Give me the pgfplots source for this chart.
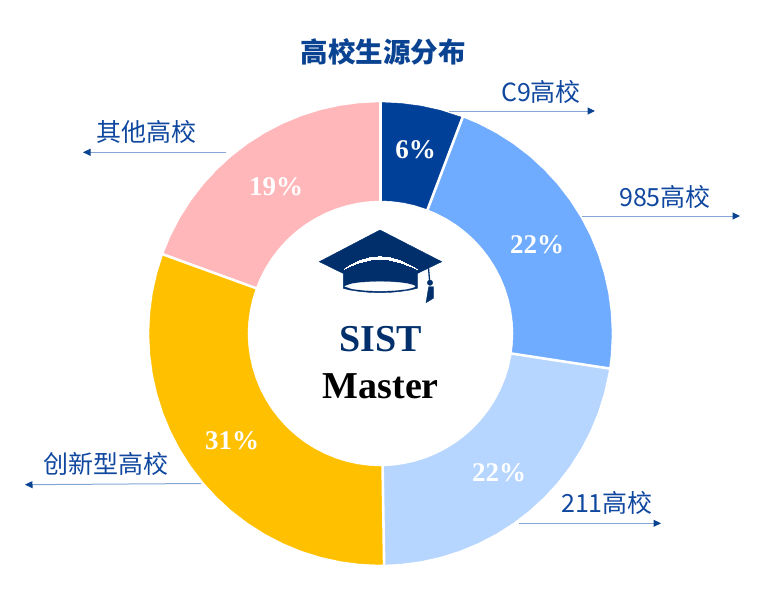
\documentclass[border=0pt]{standalone}
\usepackage{fontspec}
\setmainfont{Liberation Serif}
\newfontfamily\cjk{Noto Sans CJK SC}
\usepackage{pgfplots}
\pgfplotsset{compat=1.18}
\usetikzlibrary{arrows.meta}

\definecolor{cnine}{HTML}{004098}
\definecolor{c985}{HTML}{6FACFF}
\definecolor{c211}{HTML}{B6D5FF}
\definecolor{cnew}{HTML}{FFC000}
\definecolor{cother}{HTML}{FFB7BA}
\definecolor{navy}{HTML}{002F6C}
\definecolor{labelblue}{HTML}{1048A0}
\definecolor{titleblue}{HTML}{0B4393}
\definecolor{leader}{HTML}{85A5D5}
\definecolor{head}{HTML}{0B4393}

\pgfplotsset{
    page/.style={
        at={(0,0)}, anchor=south west,
        scale only axis, width=758pt, height=603pt,
        axis lines=none, clip=false,
    },
    gap/.style={white, line width=2.6pt, data cs=polar},
    arrowline/.style={leader, line width=1pt, -{Triangle[length=7.5pt,width=7pt,color=head]}},
}
\newcommand{\pct}[3]{\node[anchor=base, inner sep=0pt, text=white, font=\fontsize{27}{29}\selectfont\bfseries] at (axis cs:#1,#2) {#3};}
\newcommand{\lab}[3]{\node[anchor=center, inner sep=0pt, text=labelblue, font=\cjk\fontsize{25}{28}\selectfont] at (axis cs:#1,#2) {#3};}

\begin{document}
\begin{tikzpicture}
\path[use as bounding box] (0,0) rectangle (758pt,603pt);

% donut, origin on the centre, points are (angle, radius)
\begin{axis}[page, xmin=-380.5, xmax=377.5, ymin=-269.5, ymax=333.5]
    % C9 5.8%
    \addplot[cnine, fill=cnine, data cs=polar] coordinates {
        (90,231) (85,231) (80,231) (75,231) (69.2,231)
        (69.2,133) (75,133) (80,133) (85,133) (90,133)
    } -- cycle;
    % 985 21.6%
    \addplot[c985, fill=c985, data cs=polar] coordinates {
        (69.2,231) (65,231) (60,231) (55,231) (50,231) (45,231) (40,231) (35,231) (30,231)
        (25,231) (20,231) (15,231) (10,231) (5,231) (0,231) (-5,231) (-8.7,231)
        (-8.7,133) (-5,133) (0,133) (5,133) (10,133) (15,133) (20,133) (25,133)
        (30,133) (35,133) (40,133) (45,133) (50,133) (55,133) (60,133) (65,133) (69.2,133)
    } -- cycle;
    % 211 22.3%
    \addplot[c211, fill=c211, data cs=polar] coordinates {
        (-8.7,231) (-10,231) (-15,231) (-20,231) (-25,231) (-30,231) (-35,231) (-40,231) (-45,231)
        (-50,231) (-55,231) (-60,231) (-65,231) (-70,231) (-75,231) (-80,231) (-85,231) (-89.1,231)
        (-89.1,133) (-85,133) (-80,133) (-75,133) (-70,133) (-65,133) (-60,133) (-55,133) (-50,133)
        (-45,133) (-40,133) (-35,133) (-30,133) (-25,133) (-20,133) (-15,133) (-10,133) (-8.7,133)
    } -- cycle;
    % new-type 30.8%
    \addplot[cnew, fill=cnew, data cs=polar] coordinates {
        (-89.1,231) (-90,231) (-95,231) (-100,231) (-105,231) (-110,231) (-115,231) (-120,231)
        (-125,231) (-130,231) (-135,231) (-140,231) (-145,231) (-150,231) (-155,231) (-160,231)
        (-165,231) (-170,231) (-175,231) (-180,231) (-185,231) (-190,231) (-195,231) (-200,231)
        (-200,133) (-195,133) (-190,133) (-185,133) (-180,133) (-175,133) (-170,133) (-165,133)
        (-160,133) (-155,133) (-150,133) (-145,133) (-140,133) (-135,133) (-130,133) (-125,133)
        (-120,133) (-115,133) (-110,133) (-105,133) (-100,133) (-95,133) (-90,133) (-89.1,133)
    } -- cycle;
    % other 19.4%
    \addplot[cother, fill=cother, data cs=polar] coordinates {
        (-200,231) (-205,231) (-210,231) (-215,231) (-220,231) (-225,231) (-230,231) (-235,231)
        (-240,231) (-245,231) (-250,231) (-255,231) (-260,231) (-265,231) (-270,231)
        (-270,133) (-265,133) (-260,133) (-255,133) (-250,133) (-245,133) (-240,133) (-235,133)
        (-230,133) (-225,133) (-220,133) (-215,133) (-210,133) (-205,133) (-200,133)
    } -- cycle;
    % white gaps
    \addplot[gap] coordinates {(90,128) (90,236)};
    \addplot[gap] coordinates {(69.2,128) (69.2,236)};
    \addplot[gap] coordinates {(-8.7,128) (-8.7,236)};
    \addplot[gap] coordinates {(-89.1,128) (-89.1,236)};
    \addplot[gap] coordinates {(-200,128) (-200,236)};
\end{axis}

% everything else in picture pixels
\begin{axis}[page, xmin=0, xmax=758, ymin=0, ymax=603, y dir=reverse]
    % leader arrows
    \addplot[arrowline] coordinates {(449,111) (595,111)};
    \addplot[arrowline] coordinates {(582,216) (740,216)};
    \addplot[arrowline] coordinates {(519,523.3) (661,523.3)};
    \addplot[arrowline] coordinates {(226,152.3) (83,152.3)};
    \addplot[arrowline] coordinates {(201,483.5) (25,484.7)};

    % cap
    \addplot[navy, fill=navy] coordinates {
        (380,230) (441.7,261.7) (417.3,273.5) (417.3,288.3) (410,290) (400,291.5) (390,292.4) (380,292.7)
        (370,292.4) (360,291.5) (350,290) (343.3,288.3) (343.3,273.5) (319.3,261.7)
    } -- cycle;
    \addplot[white, fill=white, line width=0pt] coordinates {
        (344,269) (350,265.3) (360,260.5) (370,257.7) (380,256.7) (390,257.7) (400,260.5) (410,265.3) (417,269)
        (410,266.1) (400,262.5) (390,260) (380,259.5) (370,260) (360,262.5) (350,266.1)
    } -- cycle;
    \addplot[white, fill=white, smooth] coordinates {
        (345,286.3) (352,283.8) (365,282.2) (380,281.7) (395,282.2) (408,283.8) (415,286.3)
        (408,288.8) (395,290.3) (380,291) (365,290.3) (352,288.8)
    } -- cycle;
    \addplot[navy, line width=1.3pt] coordinates {(428.5,268) (429.6,281)};
    \addplot[navy, only marks, mark=*, mark size=2.7pt, mark options={fill=navy}] coordinates {(430,282.7)};
    \addplot[navy, fill=navy] coordinates {(428.7,286.7) (433.3,286.7) (433.3,298.3) (426,302.7)} -- cycle;

    % texts
    \node[anchor=center, inner sep=0pt, text=titleblue, font=\cjk\fontsize{27.5}{30}\selectfont\bfseries] at (axis cs:383,52) {高校生源分布};
    \lab{541}{91.7}{C9高校}
    \lab{665}{196.7}{985高校}
    \lab{146.5}{132}{其他高校}
    \lab{106}{464}{创新型高校}
    \lab{607}{503}{211高校}

    \pct{415.5}{158}{6\%}
    \pct{537}{253}{22\%}
    \pct{499}{481}{22\%}
    \pct{232}{449}{31\%}
    \pct{276}{195}{19\%}

    \node[anchor=base, inner sep=0pt, text=navy, font=\fontsize{38}{40}\selectfont\bfseries] at (axis cs:380.3,351.5) {SIST};
    \node[anchor=base, inner sep=0pt, text=black, font=\fontsize{38}{40}\selectfont\bfseries] at (axis cs:380.8,398) {Master};
\end{axis}
\end{tikzpicture}
\end{document}
